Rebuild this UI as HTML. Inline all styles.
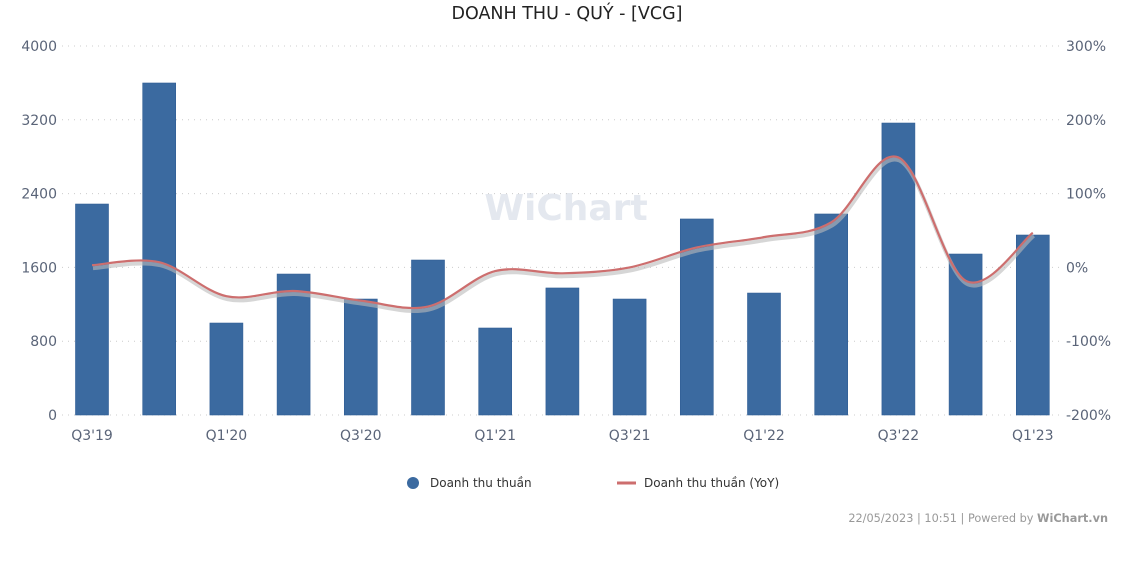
<!DOCTYPE html>
<html><head><meta charset="utf-8"><style>
body{margin:0;background:#fff;width:1134px;height:564px;overflow:hidden;font-family:"DejaVu Sans","Liberation Sans",sans-serif}
</style></head><body>
<svg id="c" width="1134" height="564" xmlns="http://www.w3.org/2000/svg">
<text x="567" y="19" text-anchor="middle" font-size="17.5" fill="#222">DOANH THU - QUÝ - [VCG]</text>
<text x="566" y="220" text-anchor="middle" font-size="36" font-weight="bold" fill="#e4e8ef">WiChart</text>
<g id="grid"></g><g id="bars"></g><g id="line"></g><g id="axes"></g>
<g>
<circle cx="413" cy="483" r="6" fill="#3b6aa0"/>
<text x="430" y="487" font-size="12" fill="#333">Doanh thu thuần</text>
<line x1="617" y1="483" x2="636" y2="483" stroke="#cd6e6e" stroke-width="3"/>
<text x="644" y="487" font-size="12" fill="#333">Doanh thu thuần (YoY)</text>
</g>
<text x="1108" y="522" text-anchor="end" font-size="11.3" fill="#999">22/05/2023 | 10:51 | Powered by <tspan font-weight="bold">WiChart.vn</tspan></text>
</svg>
<script>
const categories=["Q3'19","Q4'19","Q1'20","Q2'20","Q3'20","Q4'20","Q1'21","Q2'21","Q3'21","Q4'21","Q1'22","Q2'22","Q3'22","Q4'22","Q1'23"];
const revenue=[2287,3599,997,1528,1257,1680,943,1377,1257,2125,1322,2179,3165,1745,1951];
const yoy=[3,7,-39,-32,-45,-53,-5,-8,0,27,41,61,149,-18,47];
const leftTicks=[0,800,1600,2400,3200,4000];
const rightTicks=["-200%","-100%","0%","100%","200%","300%"];
const rightVals=[-200,-100,0,100,200,300];
const NS="http://www.w3.org/2000/svg";
const plotTop=46,plotBot=415,step=67.2,c0=92,bw=33,gx1=62,gx2=1060;
const yL=v=>plotBot-(v/4000)*(plotBot-plotTop);
const yR=v=>plotBot-((v+200)/500)*(plotBot-plotTop);
const xC=i=>c0+i*step;
function mk(t,a,p){const e=document.createElementNS(NS,t);for(const k in a)e.setAttribute(k,a[k]);p.appendChild(e);return e;}
const gridG=document.getElementById('grid'),axesG=document.getElementById('axes'),barsG=document.getElementById('bars'),lineG=document.getElementById('line');
leftTicks.forEach((v,i)=>{
 const g=mk('line',{x1:gx1,x2:gx2,y1:yL(v),y2:yL(v),stroke:'#ccc','stroke-dasharray':'1,5'},gridG);
 
 
 const t=mk('text',{x:57,y:yL(v)+5,'text-anchor':'end','font-size':14,fill:'#5a6478'},axesG);t.textContent=v;
 
 
});
rightVals.forEach((v,i)=>{
 const t=mk('text',{x:1066,y:yR(v)+5,'font-size':14,fill:'#5a6478'},axesG);t.textContent=rightTicks[i];
 
 
});
categories.forEach((c,i)=>{
 const r=mk('rect',{x:xC(i)-bw/2,y:yL(revenue[i]),width:bw,height:plotBot-yL(revenue[i]),fill:'#3b6aa0',stroke:'#2f5d94','stroke-width':0.6},barsG);
 
 
 if(i%2==0){const t=mk('text',{x:xC(i),y:440,'text-anchor':'middle','font-size':14,fill:'#5a6478'},axesG);t.textContent=c;
 
 }
});
const pts=yoy.map((v,i)=>[xC(i),yR(v)]);
function path(p,dx,dy){let d=`M${p[0][0]+dx},${p[0][1]+dy}`;for(let i=0;i<p.length-1;i++){const a=p[i-1]||p[i],b=p[i],c=p[i+1],e=p[i+2]||c;const t=6;
 d+=` C${b[0]+(c[0]-a[0])/t+dx},${b[1]+(c[1]-a[1])/t+dy} ${c[0]-(e[0]-b[0])/t+dx},${c[1]-(e[1]-b[1])/t+dy} ${c[0]+dx},${c[1]+dy}`;}return d;}
const s=mk('path',{d:path(pts,1,3),fill:'none',stroke:'#bbb','stroke-width':4,opacity:0.6},lineG);


const l=mk('path',{d:path(pts,0,0),fill:'none',stroke:'#cd6e6e','stroke-width':2.2},lineG);


</script>
</body></html>
